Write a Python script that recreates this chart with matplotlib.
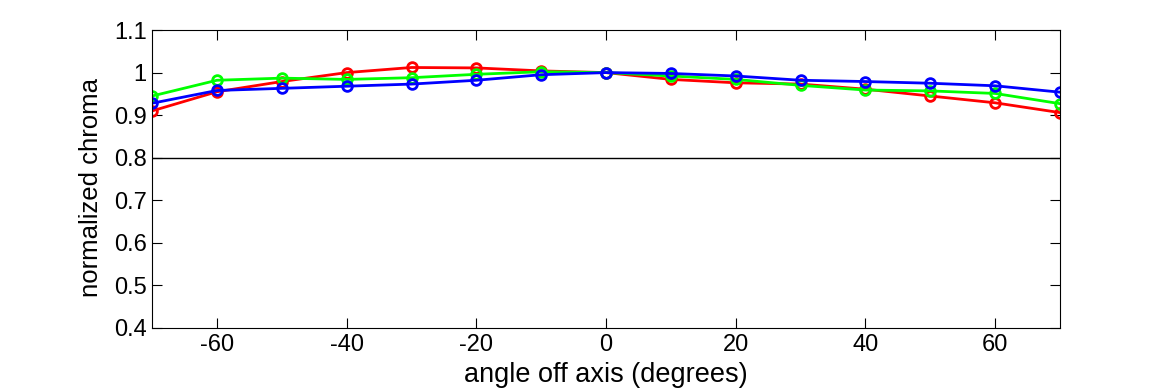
import numpy as np
import matplotlib.pyplot as plt

plt.rcParams['font.family'] = ['Liberation Sans', 'DejaVu Sans']
plt.rcParams['axes.unicode_minus'] = False

# angles and normalized chroma per channel
angles = [-70, -60, -50, -40, -30, -20, -10, 0, 10, 20, 30, 40, 50, 60, 70]
red = [0.910, 0.955, 0.979, 1.000, 1.012, 1.011, 1.004, 1.000,
       0.984, 0.976, 0.973, 0.961, 0.945, 0.929, 0.906]
green = [0.945, 0.982, 0.987, 0.984, 0.988, 0.996, 1.002, 1.000,
         0.992, 0.984, 0.970, 0.959, 0.957, 0.951, 0.927]
blue = [0.928, 0.958, 0.963, 0.968, 0.973, 0.982, 0.995, 1.000,
        0.998, 0.992, 0.982, 0.979, 0.975, 0.969, 0.954]

xticks = [-60, -40, -20, 0, 20, 40, 60]
yticks = [0.4, 0.5, 0.6, 0.7, 0.8, 0.9, 1.0, 1.1]
ylabels = ['0.4', '0.5', '0.6', '0.7', '0.8', '0.9', '1', '1.1']

fig = plt.figure(figsize=(11.7, 3.9), dpi=100)
ax = fig.add_axes([0.130, 0.159, 0.776, 0.764])

ax.axhline(0.8, color='black', lw=1.0)
for vals, col in [(red, '#ff0000'), (green, '#00ff00'), (blue, '#0000ff')]:
    ax.plot(angles, vals, color=col, lw=2, marker='o', markersize=7,
            markerfacecolor='none', markeredgewidth=2)

ax.set_xlim(-70, 70)
ax.set_ylim(0.4, 1.1)
ax.set_xticks(xticks)
ax.set_yticks(yticks)
ax.set_yticklabels(ylabels)
ax.tick_params(direction='in', top=True, right=True, length=7,
               labelsize=17, width=0.8, pad=4)
ax.set_xlabel('angle off axis (degrees)', fontsize=19.5, labelpad=5)
ax.set_ylabel('normalized chroma', fontsize=18.5)
ax.yaxis.set_label_coords(-0.054, 0.47)
for s in ax.spines.values():
    s.set_linewidth(0.8)

plt.savefig('out.png')
